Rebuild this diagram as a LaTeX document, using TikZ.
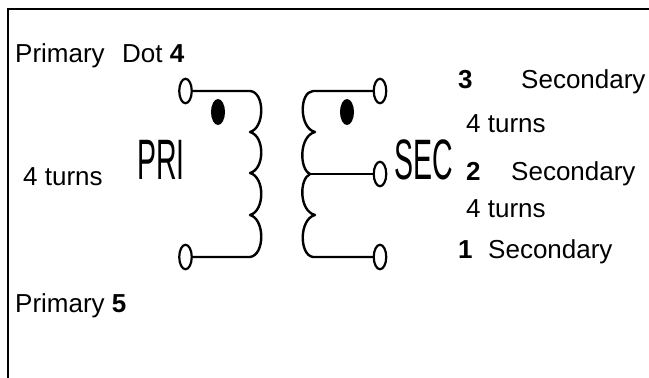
\documentclass[tikz,border=0pt]{standalone}
\usepackage{fontspec}
\setmainfont{Liberation Sans}
\usetikzlibrary{shapes.geometric}
\tikzset{
  lbl/.style={inner sep=0pt,anchor=base west,font=\fontsize{26}{28}\selectfont},
  term/.style={ellipse,draw,line width=2.2pt,fill=white,minimum width=12.5pt,minimum height=24.5pt,inner sep=0pt},
  wire/.style={line width=2.4pt,line cap=round,line join=round},
  dotm/.style={ellipse,fill=black,minimum width=14pt,minimum height=26pt,inner sep=0pt},
  big/.style={inner sep=0pt,anchor=base west,font=\fontsize{57}{60}\selectfont,xscale=0.5},
}
\begin{document}
\begin{tikzpicture}[x=1pt,y=-1pt]
\useasboundingbox (0,0) rectangle (649,378);
\coordinate (tl) at (8,9);
\coordinate (tr) at (649,9);
\coordinate (bl) at (8,378);
\draw[line width=1.6pt] (tr) -- (tl) -- (bl);
\coordinate (tap) at (310,174);
\node[term] (p1) at (185.5,91) {};
\node[term] (p2) at (185.5,257) {};
\node[term] (s1) at (380,91) {};
\node[term] (s2) at (380,174) {};
\node[term] (s3) at (380,257) {};
\draw[wire] (p1.east) -- (250,91) .. controls (265,92) and (265,128) .. (250,132)
  .. controls (265,136) and (265,169) .. (250,173)
  .. controls (265,177) and (265,211) .. (250,215)
  .. controls (265,219) and (265,255) .. (250,257) -- (p2.east);
\draw[wire] (s1.west) -- (313,91) .. controls (299,92) and (299,128) .. (315,132)
  .. controls (299,136) and (299,169) .. (tap)
  .. controls (299,179) and (299,211) .. (315,215)
  .. controls (299,219) and (299,255) .. (313,257) -- (s3.west);
\draw[wire] (tap) -- (s2.west);
\node[dotm] (d1) at (218,112) {};
\node[dotm] (d2) at (347,112) {};
\node[big] (pri) at (137,179) {PRI};
\node[big] (sec) at (394,179) {SEC};
\node[lbl] (t1) at (15,62) {Primary};
\node[lbl] (t1b) at (122,62) {Dot \textbf{4}};
\node[lbl] (t2) at (23,185) {4 turns};
\node[lbl] (t3) at (15,312) {Primary \textbf{5}};
\node[lbl] (t4) at (458,88) {\textbf{3}};
\node[lbl] (t5) at (521,88) {Secondary};
\node[lbl] (t6) at (466,132) {4 turns};
\node[lbl] (t7) at (466,180) {\textbf{2}};
\node[lbl] (t8) at (511,180) {Secondary};
\node[lbl] (t9) at (466,217) {4 turns};
\node[lbl] (t10) at (458,258) {\textbf{1}};
\node[lbl] (t11) at (488,258) {Secondary};
\end{tikzpicture}
\end{document}
